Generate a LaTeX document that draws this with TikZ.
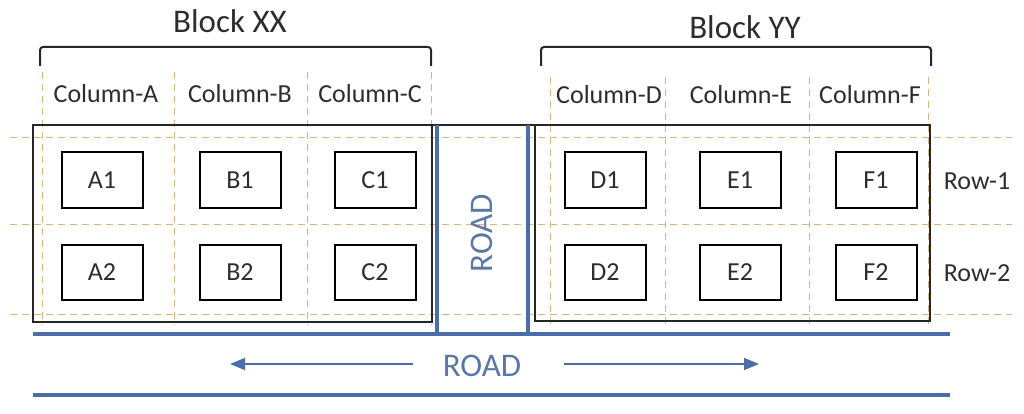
\documentclass[tikz,border=0pt]{standalone}
\usepackage{fontspec}
\setmainfont{Carlito}
\usetikzlibrary{arrows.meta}
\definecolor{roadblue}{RGB}{76,110,168}
\definecolor{roadtext}{RGB}{90,120,165}
\definecolor{gridline}{RGB}{218,180,128}
\definecolor{txt}{RGB}{45,45,45}
\tikzset{
  grid dash/.style={draw=gridline, line width=1pt, dash pattern=on 7pt off 5pt},
  cell/.style={draw=black, line width=2pt, minimum width=81pt, minimum height=55pt, text=txt, font=\fontsize{26}{30}\selectfont},
  collabel/.style={text=txt, font=\fontsize{26}{30}\selectfont, inner sep=0pt},
  blocklabel/.style={text=txt, font=\fontsize{33}{38}\selectfont, inner sep=0pt},
  roadlabel/.style={text=roadtext, font=\fontsize{33}{38}\selectfont, inner sep=0pt},
  blockline/.style={draw=black!85, line width=2.8pt},
  bracketline/.style={draw=black!85, line width=2pt, rounded corners=3pt},
  roadline/.style={draw=roadblue, line width=4.5pt},
  roadarrow/.style={draw=roadblue, line width=1.6pt, -{Triangle[length=15pt,width=12pt]}},
}
\begin{document}
\begin{tikzpicture}[x=1pt, y=-1pt]
\useasboundingbox (0,0) rectangle (1024,414);
% dashed grid
\foreach \yy in {138,224,314} \draw[grid dash] (10,\yy) -- (1012,\yy);
\foreach \xx in {42,174,307,431} \draw[grid dash] (\xx,72) -- (\xx,325);
\foreach \xx in {550,665,809,928} \draw[grid dash] (\xx,77) -- (\xx,325);
% block outlines
\coordinate (LTL) at (33,125);
\coordinate (LBR) at (432,322);
\coordinate (RTL) at (535,125);
\coordinate (RBR) at (930,321);
\draw[blockline] (LTL) rectangle (LBR);
\draw[blockline] (RTL) rectangle (RBR);
\draw[blockline] (LTL) -- (930,125);
% roads
\coordinate (V1t) at (437,125); \coordinate (V1b) at (437,334);
\coordinate (V2t) at (528,125); \coordinate (V2b) at (528,334);
\coordinate (H1l) at (33,334); \coordinate (H1r) at (950,334);
\coordinate (H2l) at (33,395); \coordinate (H2r) at (950,395);
\draw[roadline] (V1t) -- (V1b);
\draw[roadline] (V2t) -- (V2b);
\draw[roadline] (H1l) -- (H1r);
\draw[roadline] (H2l) -- (H2r);
\node[roadlabel, rotate=90] (roadv) at (482,233) {ROAD};
\node[roadlabel] (roadh) at (482,366) {ROAD};
\coordinate (la1) at (413,364); \coordinate (la2) at (230,364);
\coordinate (ra1) at (564,364); \coordinate (ra2) at (759,364);
\draw[roadarrow] (la1) -- (la2);
\draw[roadarrow] (ra1) -- (ra2);
% brackets
\coordinate (bx1) at (40,66); \coordinate (bx2) at (40,47); \coordinate (bx3) at (431,47); \coordinate (bx4) at (431,66);
\coordinate (by1) at (541,66); \coordinate (by2) at (541,47); \coordinate (by3) at (931,47); \coordinate (by4) at (931,66);
\draw[bracketline] (bx1) -- (bx2) -- (bx3) -- (bx4);
\draw[bracketline] (by1) -- (by2) -- (by3) -- (by4);
\node[blocklabel] (bXX) at (230,21) {Block XX};
\node[blocklabel] (bYY) at (745,27) {Block YY};
% column labels
\node[collabel] (cA) at (106,94) {Column-A};
\node[collabel] (cB) at (240,94) {Column-B};
\node[collabel] (cC) at (370,94) {Column-C};
\node[collabel] (cD) at (609,95) {Column-D};
\node[collabel] (cE) at (741,95) {Column-E};
\node[collabel] (cF) at (870,95) {Column-F};
% row labels
\node[collabel] (r1) at (977,181) {Row-1};
\node[collabel] (r2) at (977,273) {Row-2};
% cells
\node[cell] (A1) at (102,180) {A1};
\node[cell] (B1) at (240,180) {B1};
\node[cell] (C1) at (375,180) {C1};
\node[cell] (D1) at (605,180) {D1};
\node[cell] (E1) at (740,180) {E1};
\node[cell] (F1) at (876,180) {F1};
\node[cell] (A2) at (102,272) {A2};
\node[cell] (B2) at (240,272) {B2};
\node[cell] (C2) at (375,272) {C2};
\node[cell] (D2) at (605,272) {D2};
\node[cell] (E2) at (740,272) {E2};
\node[cell] (F2) at (876,272) {F2};
\end{tikzpicture}
\end{document}
